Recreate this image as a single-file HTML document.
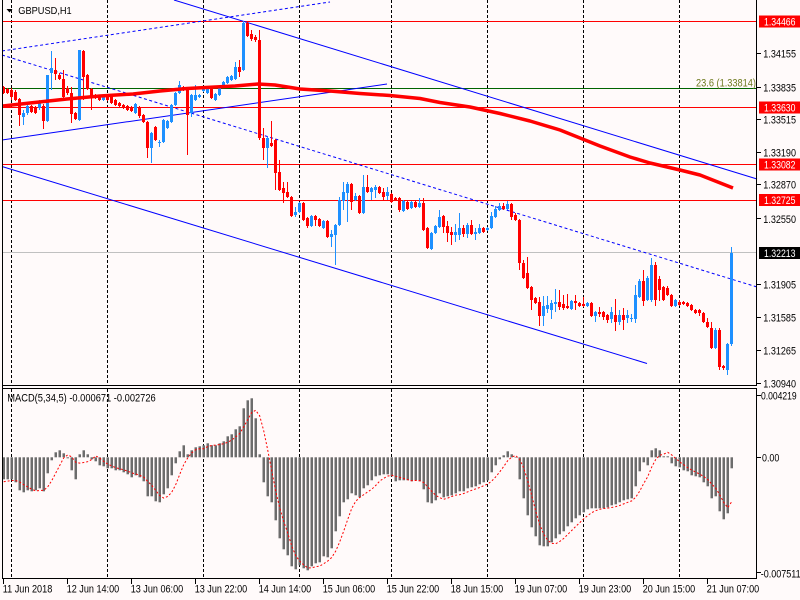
<!DOCTYPE html>
<html>
<head>
<meta charset="utf-8">
<style>
html,body{margin:0;padding:0;background:#fffafa;}
svg{display:block;}
text{font-family:"Liberation Sans",sans-serif;}
</style>
</head>
<body>
<svg id="chart" xmlns="http://www.w3.org/2000/svg" width="800" height="600" viewBox="0 0 800 600">
<rect x="0" y="0" width="800" height="600" fill="#fffafa"/>

<!-- vertical grid -->
<g stroke="#000" stroke-width="1" stroke-dasharray="3,2">
<line x1="11.5" y1="0" x2="11.5" y2="385"/>
<line x1="107.5" y1="0" x2="107.5" y2="385"/>
<line x1="203.5" y1="0" x2="203.5" y2="385"/>
<line x1="299.5" y1="0" x2="299.5" y2="385"/>
<line x1="391.5" y1="0" x2="391.5" y2="385"/>
<line x1="487.5" y1="0" x2="487.5" y2="385"/>
<line x1="583.5" y1="0" x2="583.5" y2="385"/>
<line x1="679.5" y1="0" x2="679.5" y2="385"/>
<line x1="11.5" y1="389" x2="11.5" y2="578"/>
<line x1="107.5" y1="389" x2="107.5" y2="578"/>
<line x1="203.5" y1="389" x2="203.5" y2="578"/>
<line x1="299.5" y1="389" x2="299.5" y2="578"/>
<line x1="391.5" y1="389" x2="391.5" y2="578"/>
<line x1="487.5" y1="389" x2="487.5" y2="578"/>
<line x1="583.5" y1="389" x2="583.5" y2="578"/>
<line x1="679.5" y1="389" x2="679.5" y2="578"/>
</g>

<!-- horizontal levels -->
<g stroke-width="1">
<line x1="2" y1="21.5" x2="757" y2="21.5" stroke="#ff0000"/>
<line x1="2" y1="107.5" x2="757" y2="107.5" stroke="#ff0000"/>
<line x1="2" y1="164.5" x2="757" y2="164.5" stroke="#ff0000"/>
<line x1="2" y1="200.5" x2="757" y2="200.5" stroke="#ff0000"/>
<line x1="2" y1="88.5" x2="757" y2="88.5" stroke="#006400"/>
<line x1="2" y1="252.5" x2="757" y2="252.5" stroke="#c0c0c0"/>
</g>

<!-- trendlines -->
<g stroke="#0000ff" stroke-width="1" fill="none">
<line x1="174" y1="0" x2="757" y2="179"/>
<line x1="2" y1="51" x2="330" y2="2" stroke-dasharray="3,2.5"/>
<line x1="2" y1="140" x2="387" y2="84"/>
<line x1="2" y1="55" x2="757" y2="287" stroke-dasharray="3,2.5"/>
<line x1="2" y1="166.5" x2="647" y2="363.5"/>
</g>

<text x="696" y="86.5" font-size="11" fill="#6f7a1f" textLength="60" lengthAdjust="spacingAndGlyphs">23.6 (1.33814)</text>

<g id="candles"></g>

<!-- moving average -->
<polyline fill="none" stroke="#ff0000" stroke-width="3.5" stroke-linejoin="round" points="3,106 30,103 67,99 100,96 133,94 160,91 187,88.5 215,87 235,86 258,84 275,85 300,89 330,91 360,93.5 390,95.5 420,98.5 440,102.5 470,107 500,113.5 530,121 560,130 600,146 630,157 650,163 680,170 700,175 733,188"/>

<!-- MACD -->
<g id="macd"></g>
<polyline id="sig" fill="none" stroke="#ff0000" stroke-width="1" stroke-dasharray="2,2" points=""/>

<!-- frames -->
<g stroke="#000" stroke-width="1" fill="none">
<line x1="2.5" y1="0" x2="2.5" y2="579"/>
<line x1="756.5" y1="0" x2="756.5" y2="386"/>
<line x1="2" y1="385.5" x2="757" y2="385.5"/>
<line x1="2" y1="388.5" x2="757" y2="388.5"/>
<line x1="756.5" y1="388" x2="756.5" y2="579"/>
<line x1="2" y1="578.5" x2="757" y2="578.5"/>
</g>

<!-- title -->
<polygon points="6.5,9 12.5,9 9.5,12.5" fill="#000"/>
<text x="18.3" y="14" font-size="10.5" fill="#000" textLength="53.4" lengthAdjust="spacingAndGlyphs">GBPUSD,H1</text>
<text x="7.3" y="401.3" font-size="11" fill="#000" textLength="148.4" lengthAdjust="spacingAndGlyphs">MACD(5,34,5) -0.000671 -0.002726</text>

<!-- price axis ticks -->
<g stroke="#000" stroke-width="1">
<line x1="757" y1="53.5" x2="761" y2="53.5"/>
<line x1="757" y1="87.5" x2="761" y2="87.5"/>
<line x1="757" y1="119.5" x2="761" y2="119.5"/>
<line x1="757" y1="152.5" x2="761" y2="152.5"/>
<line x1="757" y1="184.5" x2="761" y2="184.5"/>
<line x1="757" y1="218.5" x2="761" y2="218.5"/>
<line x1="757" y1="284.5" x2="761" y2="284.5"/>
<line x1="757" y1="317.5" x2="761" y2="317.5"/>
<line x1="757" y1="350.5" x2="761" y2="350.5"/>
<line x1="757" y1="383.5" x2="761" y2="383.5"/>
<line x1="757" y1="395.5" x2="761" y2="395.5"/>
<line x1="757" y1="457.5" x2="761" y2="457.5"/>
<line x1="757" y1="572.5" x2="761" y2="572.5"/>
</g>

<!-- price labels -->
<g font-size="11" fill="#000">
<text x="763.3" y="57.3" textLength="32.7" lengthAdjust="spacingAndGlyphs">1.34155</text>
<text x="763.3" y="91.3" textLength="32.7" lengthAdjust="spacingAndGlyphs">1.33835</text>
<text x="763.3" y="123.3" textLength="32.7" lengthAdjust="spacingAndGlyphs">1.33515</text>
<text x="763.3" y="156.7" textLength="32.7" lengthAdjust="spacingAndGlyphs">1.33190</text>
<text x="763.3" y="188.3" textLength="32.7" lengthAdjust="spacingAndGlyphs">1.32870</text>
<text x="763.3" y="223" textLength="32.7" lengthAdjust="spacingAndGlyphs">1.32550</text>
<text x="763.3" y="288.3" textLength="32.7" lengthAdjust="spacingAndGlyphs">1.31905</text>
<text x="763.3" y="321.7" textLength="32.7" lengthAdjust="spacingAndGlyphs">1.31585</text>
<text x="763.3" y="354.7" textLength="32.7" lengthAdjust="spacingAndGlyphs">1.31265</text>
<text x="763.3" y="387.3" textLength="32.7" lengthAdjust="spacingAndGlyphs">1.30940</text>
<text x="761" y="399.7" textLength="35.7" lengthAdjust="spacingAndGlyphs">0.004219</text>
<text x="762" y="461.3" textLength="17.3" lengthAdjust="spacingAndGlyphs">0.00</text>
<text x="760.7" y="577.3" textLength="40" lengthAdjust="spacingAndGlyphs">-0.007511</text>
</g>

<!-- boxed labels -->
<rect x="759" y="15.5" width="41" height="12" fill="#ff0000"/>
<rect x="759" y="101.5" width="41" height="12" fill="#ff0000"/>
<rect x="759" y="158.5" width="41" height="12" fill="#ff0000"/>
<rect x="759" y="194" width="41" height="12" fill="#ff0000"/>
<rect x="759" y="247" width="41" height="12" fill="#000000"/>
<g font-size="11" fill="#ffffff">
<text x="764" y="25.5" textLength="31.5" lengthAdjust="spacingAndGlyphs">1.34466</text>
<text x="764" y="111.5" textLength="31.5" lengthAdjust="spacingAndGlyphs">1.33630</text>
<text x="764" y="168.5" textLength="31.5" lengthAdjust="spacingAndGlyphs">1.33082</text>
<text x="764" y="204" textLength="31.5" lengthAdjust="spacingAndGlyphs">1.32725</text>
<text x="764" y="257" textLength="31.5" lengthAdjust="spacingAndGlyphs">1.32213</text>
</g>

<!-- time axis -->
<g stroke="#000" stroke-width="1">
<line x1="3.5" y1="579" x2="3.5" y2="584"/>
<line x1="67.5" y1="579" x2="67.5" y2="584"/>
<line x1="131.5" y1="579" x2="131.5" y2="584"/>
<line x1="195.5" y1="579" x2="195.5" y2="584"/>
<line x1="259.5" y1="579" x2="259.5" y2="584"/>
<line x1="323.5" y1="579" x2="323.5" y2="584"/>
<line x1="387.5" y1="579" x2="387.5" y2="584"/>
<line x1="451.5" y1="579" x2="451.5" y2="584"/>
<line x1="515.5" y1="579" x2="515.5" y2="584"/>
<line x1="579.5" y1="579" x2="579.5" y2="584"/>
<line x1="643.5" y1="579" x2="643.5" y2="584"/>
<line x1="707.5" y1="579" x2="707.5" y2="584"/>
</g>
<g font-size="11" fill="#000">
<text x="2.7" y="592.3" textLength="49.6" lengthAdjust="spacingAndGlyphs">11 Jun 2018</text>
<text x="66.7" y="592.3" textLength="52.5" lengthAdjust="spacingAndGlyphs">12 Jun 14:00</text>
<text x="130.7" y="592.3" textLength="52.5" lengthAdjust="spacingAndGlyphs">13 Jun 06:00</text>
<text x="194.7" y="592.3" textLength="52.5" lengthAdjust="spacingAndGlyphs">13 Jun 22:00</text>
<text x="258.7" y="592.3" textLength="52.5" lengthAdjust="spacingAndGlyphs">14 Jun 14:00</text>
<text x="322.7" y="592.3" textLength="52.5" lengthAdjust="spacingAndGlyphs">15 Jun 06:00</text>
<text x="386.7" y="592.3" textLength="52.5" lengthAdjust="spacingAndGlyphs">15 Jun 22:00</text>
<text x="450.7" y="592.3" textLength="52.5" lengthAdjust="spacingAndGlyphs">18 Jun 15:00</text>
<text x="514.7" y="592.3" textLength="52.5" lengthAdjust="spacingAndGlyphs">19 Jun 07:00</text>
<text x="578.7" y="592.3" textLength="52.5" lengthAdjust="spacingAndGlyphs">19 Jun 23:00</text>
<text x="642.7" y="592.3" textLength="52.5" lengthAdjust="spacingAndGlyphs">20 Jun 15:00</text>
<text x="706.7" y="592.3" textLength="52.5" lengthAdjust="spacingAndGlyphs">21 Jun 07:00</text>
</g>
</svg>

<script>
(function(){
var C=[
[87,93,86,94],[89,93,88,94],[90,97,88,100],[92,100,90,101],[99,115,98,126],[117,113,110,125],[113,106,104,115],[106,112,105,113],[107,113,106,114],[108,102,100,110],
[106,121,104,129],[121,75,75,122],[73,68,51,90],[70,74,58,80],[75,79,73,80],[79,97,70,100],[88,93,86,95],[93,114,87,123],[113,119,112,120],[120,50,50,121],
[51,77,50,100],[75,89,74,90],[89,97,88,110],[95,98,94,99],[97,100,96,101],[100,96,95,101],[97,100,96,101],[95,103,94,104],[100,105,99,106],[103,106,102,107],
[105,108,104,109],[106,110,105,111],[107,111,106,112],[113,104,103,114],[107,116,106,118],[115,122,114,123],[122,148,121,158],[148,133,132,163],[127,140,126,141],[143,142,140,147],
[142,120,119,143],[128,121,120,129],[122,105,104,123],[105,93,92,106],[93,85,81,94],[87,90,86,91],[88,115,87,155],[113,95,94,117],[100,95,85,101],[97,95,94,98],
[91,87,86,92],[93,87,86,94],[88,98,87,99],[100,94,93,101],[95,86,85,96],[87,82,81,88],[83,77,76,84],[80,76,75,81],[79,67,62,80],[67,72,60,77],
[70,23,21,71],[23,36,22,37],[34,39,30,41],[37,40,35,42],[40,138,30,140],[138,148,128,160],[148,138,137,168],[143,146,121,147],[140,173,139,190],[172,190,160,191],
[188,193,182,203],[192,197,182,198],[197,216,196,217],[215,212,207,217],[212,203,202,213],[203,220,202,221],[218,226,217,228],[226,216,215,227],[216,220,215,226],[219,226,218,227],
[228,221,220,229],[221,237,220,238],[237,234,230,247],[235,225,224,265],[225,200,197,226],[201,192,182,210],[193,184,182,222],[184,202,183,210],[200,196,193,201],[196,213,195,214],
[213,187,175,214],[187,192,175,193],[192,188,187,200],[190,187,185,198],[187,193,186,194],[192,197,188,200],[196,192,187,200],[194,202,193,203],[198,200,197,201],[198,210,197,212],
[211,201,200,212],[202,209,201,210],[208,202,201,209],[202,207,201,208],[207,203,198,208],[203,230,198,231],[228,248,227,249],[249,233,232,250],[233,226,225,234],[227,217,210,228],
[216,227,215,233],[226,233,221,242],[232,235,227,245],[235,232,224,242],[235,228,213,240],[228,234,225,237],[234,225,223,238],[225,234,220,235],[234,232,228,240],[233,228,224,234],
[228,232,227,233],[230,228,227,231],[228,216,212,229],[217,209,206,218],[210,206,203,211],[206,209,203,210],[209,204,201,210],[204,217,203,220],[215,220,213,221],[220,263,219,270],
[263,278,260,279],[273,288,257,289],[287,300,286,310],[298,303,297,304],[302,316,297,326],[316,306,296,326],[309,305,296,313],[310,303,300,319],[304,302,289,312],[302,307,290,310],
[304,308,295,310],[306,308,294,309],[309,301,300,310],[301,303,295,310],[303,306,302,307],[304,306,297,307],[306,303,302,307],[303,316,302,317],[316,312,311,322],[312,314,307,317],
[312,317,311,320],[315,320,314,323],[319,312,307,323],[315,322,299,331],[322,315,310,325],[315,320,308,330],[318,315,310,323],[319,318,314,322],[319,295,285,323],[297,281,279,298],
[281,301,270,306],[300,278,276,301],[300,265,258,302],[265,300,262,306],[279,290,276,301],[287,300,286,301],[288,295,286,296],[295,306,294,307],[306,300,299,307],[302,305,300,306],
[302,304,301,305],[303,306,302,307],[305,310,304,311],[310,313,309,314],[310,313,309,316],[313,322,312,323],[322,327,318,328],[328,348,322,349],[348,330,328,349],[330,367,328,370],
[366,368,365,370],[370,344,343,375],[344,253,247,346]
];
var M=[-22,-22,-22,-25,-33,-35,-33,-34,-33,-31,
-34,-16,-3,5,7,4,-1,-13,-22,3,
7,3,-2,-4,-8,-9,-11,-11,-13,-13,
-15,-17,-20,-18,-20,-24,-39,-39,-44,-45,
-37,-31,-18,-6,6,12,3,7,10,11,
12,14,12,12,14,16,21,23,28,31,
49,57,59,39,3,-25,-39,-45,-63,-81,
-92,-98,-109,-112,-108,-111,-113,-109,-106,-105,
-99,-100,-91,-74,-59,-45,-42,-36,-38,-40,
-31,-28,-23,-19,-18,-17,-17,-19,-24,-23,
-23,-23,-24,-23,-24,-32,-45,-46,-43,-36,
-40,-39,-38,-36,-34,-34,-31,-30,-29,-27,
-25,-23,-15,-8,-2,2,6,3,0,-22,
-41,-58,-70,-79,-88,-89,-89,-85,-81,-77,
-74,-69,-65,-61,-58,-55,-52,-51,-51,-51,
-51,-50,-48,-47,-45,-43,-42,-41,-29,-14,
-5,-8,7,9,7,1,1,-6,-9,-10,
-13,-14,-18,-19,-20,-25,-29,-41,-39,-54,
-62,-56,-11];
var NS='http://www.w3.org/2000/svg';
function el(n,a){var e=document.createElementNS(NS,n);for(var k in a)e.setAttribute(k,a[k]);return e;}
var g=document.getElementById('candles');
for(var i=0;i<C.length;i++){
  var o=C[i][0],c=C[i][1],h=C[i][2],l=C[i][3];
  var col=(c<o)?'#1e90ff':'#ff0000';
  var top=Math.min(o,c),bot=Math.max(o,c);
  h=Math.min(h,top);l=Math.max(l,bot);
  var x=2+4*i;
  g.appendChild(el('rect',{x:x+1,y:h,width:1,height:Math.max(1,l-h),fill:col}));
  g.appendChild(el('rect',{x:x,y:top,width:3,height:Math.max(1,bot-top),fill:col}));
}
var Z=457.3;
var mg=document.getElementById('macd');
var pts=[];
for(var j=0;j<M.length;j++){
  var v=M[j],y0=Math.min(Z,Z-v),hh=Math.abs(v);
  mg.appendChild(el('rect',{x:2.5+4*j,y:y0,width:2.5,height:Math.max(0.5,hh),fill:'#6c6c6c'}));
  var s=0,n=0;
  for(var k=j-4;k<=j;k++){s+=(k>=0?M[k]:-25);n++;}
  pts.push((3.7+4*j).toFixed(1)+','+(Z-s/n).toFixed(1));
}
document.getElementById('sig').setAttribute('points',pts.join(' '));
})();
</script>
</body>
</html>
